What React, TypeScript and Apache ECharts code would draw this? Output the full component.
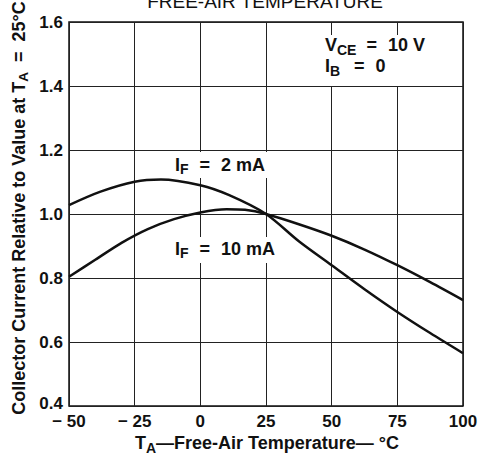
import React, { useEffect, useRef } from "react";
import * as echarts from "echarts";

const temps2mA = [-50, -38, -25, -15, 0, 11, 25, 37.5, 50, 62.5, 75, 87.5, 100];
const ratio2mA = [1.028, 1.07, 1.101, 1.108, 1.09, 1.059, 1.0, 0.915, 0.84, 0.765, 0.694, 0.628, 0.565];
const temps10mA = [-50, -40, -30, -20, -10, 0, 10, 17, 25, 37.5, 50, 62.5, 75, 87.5, 100];
const ratio10mA = [0.804, 0.857, 0.91, 0.953, 0.984, 1.005, 1.015, 1.013, 1.0, 0.968, 0.932, 0.889, 0.84, 0.787, 0.731];

const xMin = -50;
const xMax = 100;
const xStep = 25;
const yMin = 0.4;
const yMax = 1.6;
const yStep = 0.2;

const FONT = "'Liberation Sans', Arial, Helvetica, sans-serif";

type Seg = { t: string; sub?: boolean; gap?: number };

let ctx: CanvasRenderingContext2D | null = null;
function measure(t: string, size: number): number {
  if (!ctx) ctx = document.createElement("canvas").getContext("2d");
  if (!ctx) return t.length * size * 0.6;
  ctx.font = `bold ${size}px ${FONT}`;
  return ctx.measureText(t).width;
}

function layoutSegs(segs: Seg[], mainSize: number, subSize: number, drop: number, z = 3) {
  let x = 0;
  const els: any[] = [];
  segs.forEach((s) => {
    x += s.gap || 0;
    const size = s.sub ? subSize : mainSize;
    els.push({
      type: "text",
      z,
      x,
      y: s.sub ? drop : 0,
      style: {
        text: s.t,
        align: "left",
        verticalAlign: "middle",
        fontSize: size,
        lineHeight: Math.round(size * 0.78),
        fontWeight: "bold",
        fontFamily: FONT,
        fill: "#111",
      },
    });
    x += measure(s.t, size);
  });
  return { els, width: x };
}

function annotation(segs: Seg[], x: number, y: number, mainSize = 18, subSize = 14, drop = 5) {
  const { els } = layoutSegs(segs, mainSize, subSize, drop);
  return { type: "group", x, y, z: 3, children: els };
}

function centered(segs: Seg[], x: number, y: number, mainSize: number, subSize: number, drop: number, rotation = 0) {
  const { els, width } = layoutSegs(segs, mainSize, subSize, drop);
  els.forEach((e) => (e.x -= width / 2));
  return { type: "group", x, y, rotation, z: 3, children: els };
}

export default function App() {
  const ref = useRef<HTMLDivElement>(null);
  useEffect(() => {
    if (!ref.current) return;
    const chart = echarts.init(ref.current, undefined, { renderer: "svg" });
    const whiteBox = (x: number, y: number, w: number, h: number) => ({
      type: "rect",
      z: 1,
      shape: { x, y, width: w, height: h },
      style: { fill: "#fff" },
      silent: true,
    });
    chart.setOption({
      animation: false,
      backgroundColor: "#fff",
      grid: {
        left: 69,
        right: 25,
        top: 22,
        bottom: 50,
        show: true,
        borderColor: "#111",
        borderWidth: 1.5,
        containLabel: false,
      },
      xAxis: {
        type: "value",
        min: xMin,
        max: xMax,
        interval: xStep,
        axisLine: { show: false },
        axisTick: { show: false },
        splitLine: { show: true, lineStyle: { color: "#222", width: 1 } },
        axisLabel: {
          margin: 7,
          fontSize: 17,
          fontWeight: "bold",
          fontFamily: FONT,
          color: "#111",
          formatter: (v: number) => (v < 0 ? `− ${-v}` : `${v}`),
        },
      },
      yAxis: {
        type: "value",
        min: yMin,
        max: yMax,
        interval: yStep,
        axisLine: { show: false },
        axisTick: { show: false },
        splitLine: { show: true, lineStyle: { color: "#222", width: 1 } },
        axisLabel: {
          margin: 6,
          fontSize: 17,
          fontWeight: "bold",
          fontFamily: FONT,
          color: "#111",
          formatter: (v: number) => (Math.abs(v - yMin) < 1e-6 ? `{lo|${v.toFixed(1)}}` : v.toFixed(1)),
          rich: {
            lo: { fontSize: 17, fontWeight: "bold", fontFamily: FONT, color: "#111", padding: [0, 0, 6, 0] },
          },
        },
      },
      graphic: [
        {
          type: "text",
          z: 3,
          x: 265,
          y: 11,
          style: {
            text: "FREE-AIR TEMPERATURE",
            align: "center",
            verticalAlign: "bottom",
            fontSize: 19,
            fontFamily: FONT,
            fill: "#111",
          },
        },
        whiteBox(318, 35, 120, 51),
        annotation([{ t: "V" }, { t: "CE", sub: true }, { t: "=", gap: 10 }, { t: "10 V", gap: 11 }], 325, 45),
        annotation([{ t: "I" }, { t: "B", sub: true }, { t: "=", gap: 14 }, { t: "0", gap: 11 }], 325, 66),
        whiteBox(168, 152, 114, 26),
        annotation([{ t: "I" }, { t: "F", sub: true }, { t: "=", gap: 11 }, { t: "2 mA", gap: 11 }], 175, 165, 18, 14, 4),
        whiteBox(168, 237, 117, 26),
        annotation([{ t: "I" }, { t: "F", sub: true }, { t: "=", gap: 11 }, { t: "10 mA", gap: 11 }], 175, 249, 18, 14, 4),
        centered(
          [
            { t: "Collector Current Relative to Value at T" },
            { t: "A", sub: true },
            { t: "=", gap: 10 },
            { t: "25°C", gap: 10 },
          ],
          19,
          208,
          18,
          13.5,
          4,
          Math.PI / 2
        ),
        centered(
          [{ t: "T" }, { t: "A", sub: true }, { t: "—Free-Air Temperature— °C" }],
          267,
          443,
          18,
          14,
          5
        ),
      ],
      series: [
        {
          name: "IF = 2 mA",
          type: "line",
          z: 2,
          smooth: 0.3,
          symbol: "none",
          lineStyle: { color: "#111", width: 2.5 },
          data: temps2mA.map((t, i) => [t, ratio2mA[i]]),
        },
        {
          name: "IF = 10 mA",
          type: "line",
          z: 2,
          smooth: 0.3,
          symbol: "none",
          lineStyle: { color: "#111", width: 2.5 },
          data: temps10mA.map((t, i) => [t, ratio10mA[i]]),
        },
      ],
    });
    return () => chart.dispose();
  }, []);
  return (
    <div
      ref={ref}
      style={{ position: "fixed", left: 0, top: 0, width: 488, height: 456, background: "#fff" }}
    />
  );
}
